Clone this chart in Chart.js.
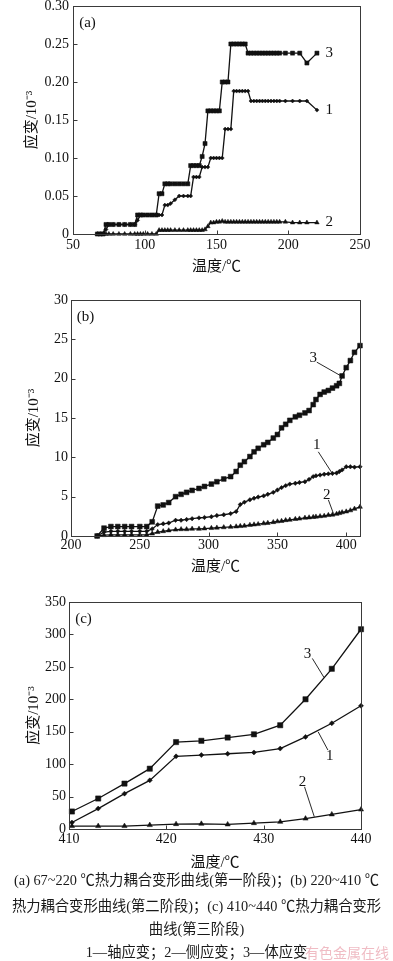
<!DOCTYPE html>
<html><head><meta charset="utf-8">
<script src="https://cdn.jsdelivr.net/npm/chart.js@4.4.0/dist/chart.umd.min.js"></script>
<style>
html,body{margin:0;padding:0;background:#fff;}
#wrap{position:relative;width:393px;height:961px;overflow:hidden;background:#fff;}
canvas{position:absolute;left:0;}
.cap{position:absolute;left:0;width:393px;text-align:center;font-family:'Liberation Serif','Noto Sans CJK SC',serif;font-size:14.3px;color:#1a1a1a;white-space:nowrap;line-height:20px;}
.wm{position:absolute;left:305px;top:942px;font-family:'Noto Sans CJK SC',sans-serif;font-size:14px;line-height:20px;color:#f0bcc4;white-space:nowrap;}
</style></head><body>
<div id="wrap">
<canvas id="ca" width="393" height="294" style="top:-14px"></canvas>
<canvas id="cb" width="393" height="300" style="top:280px"></canvas>
<canvas id="cc" width="393" height="296" style="top:580px"></canvas>
<div class="cap" style="top:870px">(a) 67~220 ℃热力耦合变形曲线(第一阶段)；(b) 220~410 ℃</div>
<div class="cap" style="top:896px">热力耦合变形曲线(第二阶段)；(c) 410~440 ℃热力耦合变形</div>
<div class="cap" style="top:919px">曲线(第三阶段)</div>
<div class="cap" style="top:942px">1—轴应变；2—侧应变；3—体应变</div>
<div class="wm">有色金属在线</div>
</div>
<script>
// ---------- Panel (a): 67–220 °C ----------
const tempA = [67,69,71,73,75,78,82,86,90,93,95,97,99,102,105,108,110,112,114,116,118,121,124,127,130,132,134,136,138,140,142,144,146,148,150,152,154,156,158,160,162,164,166,168,170,172,174,176,178,180,182,184,186,188,190,192,194,198,203,208,213,220];
const axialA = [0,0,0,0.006,0.0125,0.0125,0.0125,0.0125,0.0125,0.0125,
 0.018,0.025,0.025,0.025,0.025,0.025,0.025,0.025,0.038,0.038,
 0.040,0.045,0.05,0.05,0.05,0.05,0.075,0.075,0.075,0.088,
 0.088,0.088,0.1,0.1,0.1,0.1,0.1,0.138,0.138,0.138,
 0.188,0.188,0.188,0.188,0.188,0.188,0.175,0.175,0.175,0.175,
 0.175,0.175,0.175,0.175,0.175,0.175,0.175,0.175,0.175,0.175,
 0.175,0.163];
const lateralA = [0,0,0,0,0,0,0,0,0,0,
 0,0,0,0,0,0,0.005,0.005,0.005,0.005,
 0.005,0.005,0.005,0.005,0.005,0.005,0.005,0.005,0.005,0.005,
 0.006,0.01,0.015,0.015,0.016,0.016,0.017,0.016,0.016,0.016,
 0.016,0.016,0.016,0.016,0.016,0.016,0.016,0.016,0.016,0.016,
 0.016,0.016,0.016,0.016,0.016,0.016,0.016,0.016,0.015,0.015,
 0.015,0.015];
const volumeA = [0,0,0,0.0125,0.0125,0.0125,0.0125,0.0125,0.0125,0.0125,
 0.025,0.025,0.025,0.025,0.025,0.025,0.053,0.053,0.066,0.066,
 0.066,0.066,0.066,0.066,0.066,0.09,0.09,0.09,0.09,0.102,
 0.119,0.162,0.162,0.162,0.162,0.162,0.2,0.2,0.2,0.25,
 0.25,0.25,0.25,0.25,0.25,0.238,0.238,0.238,0.238,0.238,
 0.238,0.238,0.238,0.238,0.238,0.238,0.238,0.238,0.238,0.238,
 0.225,0.238];
const xTicksA = [50,100,150,200,250];
const yTicksA = [0,0.05,0.10,0.15,0.20,0.25,0.30];
const curveLabelsA = [{text:'3',x:228.5,y:0.238},{text:'1',x:228.5,y:0.163},{text:'2',x:228.5,y:0.016}];

// ---------- Panel (b): 220–410 °C ----------
const tempB = [219,224,229,234,239,244,250,255,259,263,267,271,276,280,284,288,293,297,302,306,311,316,320,323,326,330,333,336,340,343,347,350,353,356,359,363,366,370,373,376,378,381,384,387,390,393,395,397,400,403,406,410];
const axialB = [0,0.5,0.6,0.6,0.6,0.6,0.6,0.6,0.9,1.45,1.55,1.65,2.0,2.0,2.1,2.2,2.3,2.35,2.45,2.6,2.7,2.85,3.1,4.0,4.3,4.6,4.8,4.95,5.1,5.3,5.55,5.85,6.15,6.4,6.6,6.7,6.8,6.9,7.2,7.55,7.65,7.75,7.85,7.9,7.95,8.0,8.2,8.4,8.8,8.8,8.75,8.8];
const lateralB = [0,0.1,0.15,0.15,0.15,0.15,0.15,0.15,0.3,0.5,0.6,0.7,0.8,0.85,0.85,0.9,0.9,0.95,1.0,1.05,1.1,1.15,1.2,1.25,1.3,1.4,1.45,1.5,1.6,1.65,1.75,1.85,1.9,2.0,2.05,2.15,2.2,2.3,2.35,2.4,2.45,2.5,2.55,2.65,2.7,2.8,2.9,3.0,3.1,3.25,3.45,3.7];
const volumeB = [0,1.0,1.2,1.2,1.2,1.2,1.2,1.2,1.8,3.8,3.95,4.25,5.0,5.3,5.55,5.8,6.05,6.3,6.6,6.9,7.25,7.55,8.2,9.0,9.45,10.1,10.7,11.15,11.6,11.9,12.45,12.9,13.75,14.2,14.7,15.15,15.35,15.65,15.95,16.7,17.35,18.0,18.3,18.5,18.8,19.1,19.4,20.35,21.4,22.3,23.35,24.2];
const xTicksB = [200,250,300,350,400];
const yTicksB = [0,5,10,15,20,25,30];
const curveLabelsB = [{text:'3',x:376,y:22.6,line:[378.6,22.1,396.7,20.3]},{text:'1',x:378.6,y:11.6,line:[379.7,10.7,389.5,8.05]},{text:'2',x:385.8,y:5.2,line:[387,4.6,390.6,2.9]}];

// ---------- Panel (c): 410–440 °C ----------
const tempC = [410.3,413,415.7,418.3,421,423.6,426.3,429,431.7,434.3,437,440];
const axialC = [10,31.5,54.5,75,112,114,116,118,124,142,163,190];
const lateralC = [4.5,4.5,4.5,6,7.5,8,7,9,11,16,22.5,30];
const volumeC = [27,47,70,93,134,136,141,146,160,200,247,308];
const xTicksC = [410,420,430,440];
const yTicksC = [0,50,100,150,200,250,300,350];
const curveLabelsC = [{text:'3',x:434.5,y:270,line:[435,263,436.2,233.6]},{text:'1',x:436.8,y:112,line:[436.6,121.7,435.6,149.8]},{text:'2',x:434,y:73,line:[434.2,65,435.2,19]}];

const FONT = "'Liberation Serif','Noto Sans CJK SC',serif";
const INK = '#111';

const frame = {
  id: 'frame',
  afterDatasetsDraw(chart, args, opts) {
    const {ctx, chartArea: a, scales: {x, y}} = chart;
    ctx.save();
    ctx.strokeStyle = '#3a3a3a';
    ctx.lineWidth = 1;
    const L = Math.round(a.left) + 0.5, T = Math.round(a.top) + 0.5;
    const R = Math.round(a.right) + 0.5, B = Math.round(a.bottom) + 0.5;
    ctx.strokeRect(L, T, R - L, B - T);
    ctx.beginPath();
    y.ticks.forEach(t => { const py = Math.round(y.getPixelForValue(t.value)) + 0.5; ctx.moveTo(L, py); ctx.lineTo(L + 4, py); });
    x.ticks.forEach(t => { const px = Math.round(x.getPixelForValue(t.value)) + 0.5; ctx.moveTo(px, B); ctx.lineTo(px, B - 4); });
    ctx.stroke();
    ctx.fillStyle = INK;
    ctx.textAlign = 'center';
    ctx.textBaseline = 'middle';
    ctx.font = "15px " + FONT;
    ctx.fillText(opts.tag, a.left + 14.5, a.top + 17);
    ctx.strokeStyle = INK;
    ctx.lineWidth = 0.9;
    opts.labels.forEach(l => {
      ctx.fillText(l.text, x.getPixelForValue(l.x), y.getPixelForValue(l.y));
      if (l.line) {
        ctx.beginPath();
        ctx.moveTo(x.getPixelForValue(l.line[0]), y.getPixelForValue(l.line[1]));
        ctx.lineTo(x.getPixelForValue(l.line[2]), y.getPixelForValue(l.line[3]));
        ctx.stroke();
      }
    });
    ctx.restore();
  }
};

function pts(xs, ys) { return xs.map((v, i) => ({x: v, y: ys[i]})); }
function ds(data, style, r) {
  return {data, pointStyle: style, pointRadius: r, pointHoverRadius: r,
    borderColor: INK, backgroundColor: INK, pointBackgroundColor: INK, pointBorderColor: INK,
    pointBorderWidth: 0.5, borderWidth: 1.3, tension: 0, clip: false, fill: false};
}
function build(id, p) {
  new Chart(document.getElementById(id), {
    type: 'line',
    data: {datasets: [
      ds(pts(p.t, p.s1), 'rectRot', p.r1),
      ds(pts(p.t, p.s2), 'triangle', p.r2),
      ds(pts(p.t, p.s3), 'rect', p.r3)
    ]},
    options: {
      responsive: false, animation: false, devicePixelRatio: 1, events: [],
      layout: {padding: {top: p.padTop, right: p.padRight, left: 0, bottom: 0}},
      plugins: {legend: {display: false}, tooltip: {enabled: false}, frame: {tag: p.tag, labels: p.labels}},
      scales: {
        x: {type: 'linear', min: p.xMin, max: p.xMax,
          afterBuildTicks: s => { s.ticks = p.xTicks.map(v => ({value: v})); },
          afterFit: s => { s.height = p.xH; },
          grid: {display: false, drawTicks: false}, border: {display: false},
          ticks: {padding: p.xPad, maxRotation: 0, autoSkip: false, font: {family: FONT, size: 14}, color: INK},
          title: {display: true, text: '温度/℃', font: {family: FONT, size: 15}, color: INK, padding: {top: 0, bottom: 4}}},
        y: {type: 'linear', min: p.yMin, max: p.yMax,
          afterBuildTicks: s => { s.ticks = p.yTicks.map(v => ({value: v})); },
          afterFit: s => { s.width = p.yW; },
          grid: {display: false, drawTicks: false}, border: {display: false},
          ticks: {padding: p.yPad, autoSkip: false, font: {family: FONT, size: 14}, color: INK, callback: p.fmt},
          title: {display: true, text: '应变/10⁻³', font: {family: FONT, size: 15}, color: INK, padding: {top: p.yTitlePad, bottom: 0}}}
      }
    },
    plugins: [frame]
  });
}

build('ca', {t: tempA, s1: axialA, s2: lateralA, s3: volumeA, r1: 2, r2: 2.6, r3: 2.9,
  xMin: 50, xMax: 250, yMin: 0, yMax: 0.30, xTicks: xTicksA, yTicks: yTicksA,
  padTop: 20, padRight: 33, xH: 46, yW: 73, xPad: 3, yPad: 4, yTitlePad: 23,
  fmt: v => v === 0 ? '0' : v.toFixed(2), tag: '(a)', labels: curveLabelsA});
build('cb', {t: tempB, s1: axialB, s2: lateralB, s3: volumeB, r1: 2.2, r2: 2.8, r3: 3.4,
  xMin: 200, xMax: 410, yMin: 0, yMax: 30, xTicks: xTicksB, yTicks: yTicksB,
  padTop: 20, padRight: 33, xH: 44, yW: 71, xPad: 1, yPad: 3, yTitlePad: 25,
  fmt: v => String(v), tag: '(b)', labels: curveLabelsB});
build('cc', {t: tempC, s1: axialC, s2: lateralC, s3: volumeC, r1: 2.5, r2: 3, r3: 3.7,
  xMin: 410, xMax: 440, yMin: 0, yMax: 350, xTicks: xTicksC, yTicks: yTicksC,
  padTop: 22, padRight: 32, xH: 47, yW: 69, xPad: 2, yPad: 3, yTitlePad: 25,
  fmt: v => String(v), tag: '(c)', labels: curveLabelsC});
</script>
</body></html>
